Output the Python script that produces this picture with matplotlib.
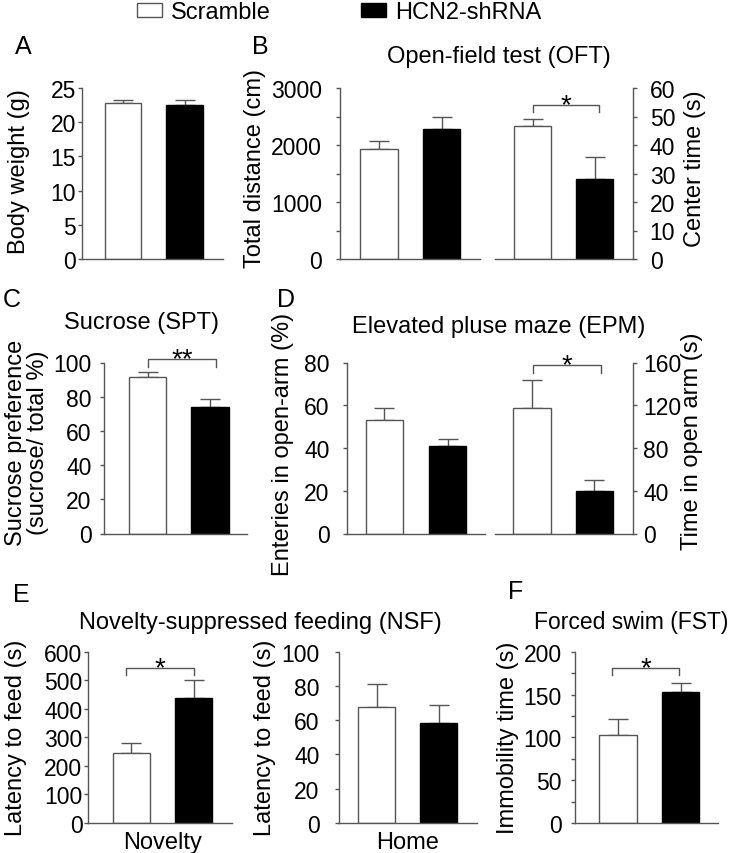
import matplotlib
matplotlib.use('Agg')
import matplotlib.pyplot as plt
from matplotlib.patches import Patch
import numpy as np

plt.rcParams['font.family'] = ['Liberation Sans', 'DejaVu Sans']

W, H = 731, 854
GRAY = '#555555'

groups = ['Scramble', 'HCN2-shRNA']

# ---- data (mean, SEM) ----
bw_mean = [22.8, 22.5]
bw_err = [0.5, 0.8]
oft_dist_mean = [1930, 2286]
oft_dist_err = [140, 210]
oft_center_mean = [46.8, 28.1]
oft_center_err = [2.3, 7.6]
spt_mean = [91.4, 73.9]
spt_err = [2.9, 4.5]
epm_entries_mean = [53.0, 41.0]
epm_entries_err = [5.9, 3.0]
epm_time_mean = [117, 40]
epm_time_err = [26.4, 10.5]
nsf_novel_mean = [245, 439]
nsf_novel_err = [35, 61]
nsf_home_mean = [67.9, 58.2]
nsf_home_err = [13.2, 10.9]
fst_mean = [103, 153.3]
fst_err = [19, 9.7]

fig = plt.figure(figsize=(W / 100, H / 100), dpi=100)
fig.patch.set_facecolor('white')


def add_ax(x0, x1, ytop, ybot):
    return fig.add_axes([x0 / W, 1 - ybot / H, (x1 - x0) / W, (ybot - ytop) / H])


def draw(ax, means, errs, ymax, major, minor=None, side='left', xlim=(-0.65, 1.62),
         pad=4, ylabel='', lab_xy=(0, 0), xlabel=None):
    x = np.arange(2)
    ax.bar(x, means, width=0.6, color=['white', 'black'], edgecolor=[GRAY, 'black'],
           linewidth=1.0, zorder=2)
    ax.errorbar(x, means, yerr=[np.zeros(2), errs], fmt='none', ecolor=GRAY,
                elinewidth=1.0, capsize=7, capthick=1.0, zorder=1)
    ax.set_xlim(*xlim)
    ax.set_ylim(0, ymax)
    ax.set_yticks(major)
    if minor is not None:
        ax.set_yticks(minor, minor=True)
    for s in ['top', 'left', 'right', 'bottom']:
        ax.spines[s].set_color(GRAY)
        ax.spines[s].set_linewidth(1.0)
    ax.spines['top'].set_visible(False)
    if side == 'left':
        ax.spines['right'].set_visible(False)
    else:
        ax.spines['left'].set_visible(False)
        ax.yaxis.tick_right()
        ax.yaxis.set_label_position('right')
    ax.tick_params(axis='y', which='both', direction='out', length=3, width=1.0,
                   color=GRAY, labelsize=16.5, pad=pad)
    if xlabel is None:
        ax.set_xticks([])
    else:
        ax.set_xticks([0.5])
        ax.set_xticklabels([xlabel])
        ax.tick_params(axis='x', length=0, labelsize=17, pad=6)
    ax.set_ylabel(ylabel, fontsize=17, linespacing=1.05)
    ax.yaxis.set_label_coords(lab_xy[0] / W, 1 - lab_xy[1] / H, transform=fig.transFigure)
    ax.yaxis.label.set_verticalalignment('center')
    ax.yaxis.label.set_horizontalalignment('center')
    ax.set_facecolor('none')


def bracket(ax, x0, x1, ytop, ylow, label):
    ax.plot([x0, x0, x1, x1], [ylow, ytop, ytop, ylow], color=GRAY, lw=1.0,
            clip_on=False, zorder=3)
    ax.annotate(label, ((x0 + x1) / 2, ytop), xytext=(0, -5), textcoords='offset points',
                ha='center', va='baseline', fontsize=20, annotation_clip=False)


# Panel A
axA = add_ax(82, 223, 89, 260)
draw(axA, bw_mean, bw_err, 25, np.arange(0, 26, 5), xlim=(-0.667, 1.626), pad=1.5,
     ylabel='Body weight (g)', lab_xy=(19, 172))

# Panel B
axB1 = add_ax(340, 480, 89, 260)
draw(axB1, oft_dist_mean, oft_dist_err, 3000, np.arange(0, 3001, 1000),
     minor=np.arange(0, 3001, 500), xlim=(-0.624, 1.616), pad=10,
     ylabel='Total distance (cm)', lab_xy=(255, 169))
axB2 = add_ax(495, 633, 89, 260)
draw(axB2, oft_center_mean, oft_center_err, 60, np.arange(0, 61, 10), side='right',
     xlim=(-0.605, 1.621), pad=9, ylabel='Center time (s)', lab_xy=(695, 169))
bracket(axB2, 0.0, 1.07, 54.1, 51.6, '*')

# Panel C
axC = add_ax(104, 247, 363.5, 534.5)
draw(axC, spt_mean, spt_err, 100, np.arange(0, 101, 20), xlim=(-0.696, 1.592), pad=6,
     ylabel='Sucrose preference\n(sucrose/ total %)', lab_xy=(27, 443))
bracket(axC, 0.0, 1.1, 101.8, 97.1, '**')

# Panel D
axD1 = add_ax(347, 485, 363.5, 534.5)
draw(axD1, epm_entries_mean, epm_entries_err, 80, np.arange(0, 81, 20),
     xlim=(-0.595, 1.595), pad=9.5, ylabel='Enteries in open-arm (%)', lab_xy=(283, 444))
axD2 = add_ax(495, 633, 363.5, 534.5)
draw(axD2, epm_time_mean, epm_time_err, 160, np.arange(0, 161, 40), side='right',
     xlim=(-0.592, 1.616), pad=4.5, ylabel='Time in open arm (s)', lab_xy=(692, 441))
bracket(axD2, 0.02, 1.1, 157.5, 150.6, '*')

# Panel E
axE1 = add_ax(88, 232, 652.7, 824)
draw(axE1, nsf_novel_mean, nsf_novel_err, 600, np.arange(0, 601, 100),
     xlim=(-0.70, 1.62), pad=1, ylabel='Latency to feed (s)', lab_xy=(16, 738),
     xlabel='Novelty')
bracket(axE1, -0.08, 1.01, 543, 518.6, '*')
axE2 = add_ax(339, 477, 652.7, 824)
draw(axE2, nsf_home_mean, nsf_home_err, 100, np.arange(0, 101, 20),
     xlim=(-0.605, 1.62), pad=11, ylabel='Latency to feed (s)', lab_xy=(265, 738),
     xlabel='Home')

# Panel F
axF = add_ax(575, 718, 652.7, 824)
draw(axF, fst_mean, fst_err, 200, np.arange(0, 201, 50), minor=np.arange(0, 201, 25),
     xlim=(-0.688, 1.6), pad=6.5, ylabel='Immobility time (s)', lab_xy=(508, 738))
bracket(axF, -0.1, 0.98, 181, 172.8, '*')

# Titles
titles = [('Open-field test (OFT)', 499, 57, 'center'), ('Sucrose (SPT)', 142, 323, 'center'),
          ('Elevated pluse maze (EPM)', 499, 327, 'center'),
          ('Novelty-suppressed feeding (NSF)', 260, 623, 'center'),
          ('Forced swim (FST)', 728, 623, 'right')]
for t, x, y, ha in titles:
    fig.text(x / W, 1 - y / H, t, ha=ha, va='center', fontsize=17 if ha == 'center' else 16.5)

letters = [('A', 23, 47), ('B', 260, 47), ('C', 12, 300), ('D', 286, 300),
           ('E', 21, 595), ('F', 516, 592)]
for t, x, y in letters:
    fig.text(x / W, 1 - y / H, t, ha='center', va='center', fontsize=18)

# Legend
handles = [Patch(facecolor='white', edgecolor=GRAY, linewidth=1.0),
           Patch(facecolor='black', edgecolor='black', linewidth=1.0)]
fig.legend(handles, groups, ncol=2, loc='upper center', bbox_to_anchor=(339 / W, 1.0),
           frameon=False, fontsize=17, handlelength=1.06, handleheight=0.55,
           handletextpad=0.38, columnspacing=3.8, borderaxespad=0, borderpad=0.1)

fig.savefig('out.png', dpi=100, facecolor='white')
